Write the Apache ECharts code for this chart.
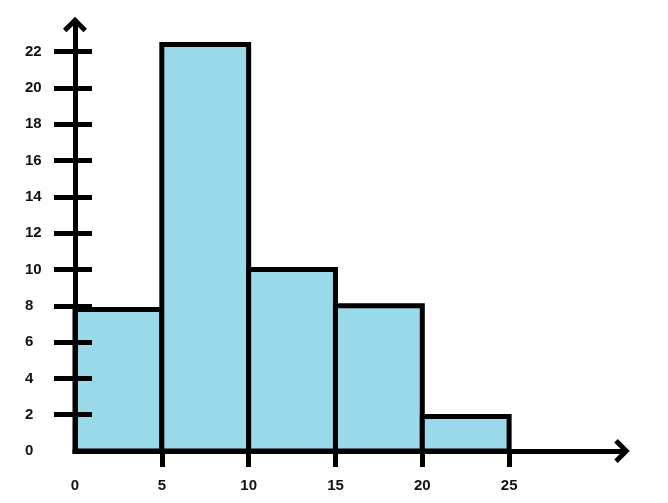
<!DOCTYPE html>
<html>
<head>
<meta charset="utf-8">
<script src="https://cdn.jsdelivr.net/npm/echarts@6/dist/echarts.min.js"></script>
<style>html,body{margin:0;padding:0;background:#fff}#c{width:668px;height:503px}</style>
</head>
<body>
<div id="c"></div>
<script>
// Histogram bins: start, end, frequency
const binStarts = [0, 5, 10, 15, 20];
const binEnds = [5, 10, 15, 20, 25];
const frequencies = [7.8, 22.4, 10, 8, 1.9];
const xTickLabels = [0, 5, 10, 15, 20, 25];
const xTickMarks = [5, 10, 15, 20, 25];
const yTickLabels = [0, 2, 4, 6, 8, 10, 12, 14, 16, 18, 20, 22];
const yTickMarks = [2, 4, 6, 8, 10, 12, 14, 16, 18, 20, 22];

const chevron = 'path://M12,0 L24,12 L20.5,15.5 L12,7 L3.5,15.5 L0,12 Z';
const labelFont = { fontFamily: 'Liberation Sans, Arial, sans-serif', fontWeight: 'bold', fontSize: 15, color: '#111' };

const data = binStarts.map((s, i) => [s, binEnds[i], frequencies[i]]);

const chart = echarts.init(document.getElementById('c'));
chart.setOption({
  animation: false,
  grid: { left: 75, right: 46, top: 24.5, bottom: 52 },
  xAxis: {
    type: 'value', min: 0, max: 31.5,
    splitLine: { show: false },
    axisLine: { show: true, symbol: ['none', chevron], symbolSize: [24, 16],
      lineStyle: { color: '#000', width: 5, cap: 'square' } },
    axisTick: { show: true, customValues: xTickMarks, length: 16, lineStyle: { color: '#000', width: 5 } },
    axisLabel: Object.assign({ customValues: xTickLabels, margin: 27 }, labelFont),
    z: 10
  },
  yAxis: [{
    type: 'value', min: 0, max: 23.5,
    splitLine: { show: false },
    axisLine: { show: true, symbol: ['none', chevron], symbolSize: [24, 16],
      lineStyle: { color: '#000', width: 5, cap: 'square' } },
    axisTick: { show: true, customValues: yTickMarks, length: 21, lineStyle: { color: '#000', width: 5 } },
    axisLabel: Object.assign({ customValues: yTickLabels, margin: 50, align: 'left' }, labelFont),
    z: 10
  }, {
    type: 'value', min: 0, max: 23.5, position: 'left',
    splitLine: { show: false },
    axisLine: { show: false },
    axisTick: { show: true, inside: true, customValues: yTickMarks, length: 17, lineStyle: { color: '#000', width: 5 } },
    axisLabel: { show: false },
    z: 10
  }],
  series: [{
    type: 'custom',
    data: data,
    encode: { x: [0, 1], y: 2 },
    renderItem: function (params, api) {
      const p0 = api.coord([api.value(0), 0]);
      const p1 = api.coord([api.value(1), api.value(2)]);
      return {
        type: 'rect',
        shape: { x: p0[0], y: p1[1], width: p1[0] - p0[0], height: p0[1] - p1[1] },
        style: { fill: '#99D9EA', stroke: '#000', lineWidth: 5 }
      };
    }
  }]
});
</script>
</body>
</html>
